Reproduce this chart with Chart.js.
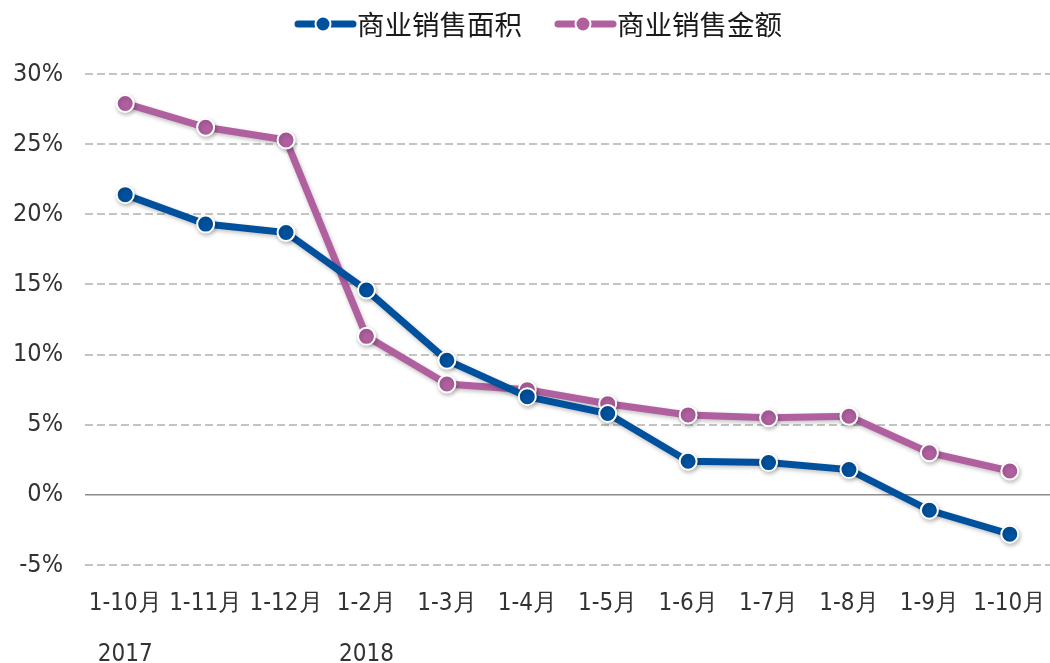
<!DOCTYPE html>
<html>
<head>
<meta charset="utf-8">
<script src="https://cdn.jsdelivr.net/npm/chart.js@4.4.1/dist/chart.umd.min.js"></script>
<style>
html,body{margin:0;padding:0;background:#fff;}
#wrap{width:1050px;height:663px;position:relative;}
</style>
</head>
<body>
<div id="wrap"><canvas id="c" width="1050" height="663"></canvas></div>
<script>
const categories = ['1-10月','1-11月','1-12月','1-2月','1-3月','1-4月','1-5月','1-6月','1-7月','1-8月','1-9月','1-10月'];
const years = ['2017','','','2018','','','','','','','',''];
const areaSeries = [21.4, 19.3, 18.7, 14.6, 9.6, 7.0, 5.8, 2.4, 2.3, 1.8, -1.1, -2.8];
const amountSeries = [27.9, 26.2, 25.3, 11.3, 7.9, 7.5, 6.5, 5.7, 5.5, 5.6, 3.0, 1.7];
const seriesNames = ['商业销售面积','商业销售金额'];
const yTicks = [-5, 0, 5, 10, 15, 20, 25, 30];

const BLUE = '#00519d';
const PURPLE = '#b0609f';
const NUMFONT = "'Liberation Sans Narrow','DejaVu Sans Condensed','Roboto',sans-serif";
const CJKFONT = "'Noto Sans CJK SC','Noto Sans',sans-serif";

const legendPlugin = {
  id: 'customLegend',
  afterDraw(chart) {
    const ctx = chart.ctx;
    const items = [
      {x: 295, color: BLUE, text: seriesNames[0]},
      {x: 555, color: PURPLE, text: seriesNames[1]}
    ];
    ctx.save();
    items.forEach(it => {
      const y = 24;
      ctx.strokeStyle = it.color;
      ctx.lineWidth = 7;
      ctx.lineCap = 'round';
      ctx.beginPath();
      ctx.moveTo(it.x + 3, y);
      ctx.lineTo(it.x + 58, y);
      ctx.stroke();
      ctx.fillStyle = it.color;
      ctx.beginPath();
      ctx.arc(it.x + 28, y, 7.5, 0, Math.PI * 2);
      ctx.fill();
      ctx.strokeStyle = '#ffffff';
      ctx.lineWidth = 2;
      ctx.stroke();
      ctx.fillStyle = '#1a1a1a';
      ctx.font = "27.5px " + CJKFONT;
      ctx.textBaseline = 'middle';
      ctx.textAlign = 'left';
      ctx.fillText(it.text, it.x + 62, y + 1);
    });
    ctx.restore();
  }
};

const shadowPlugin = {
  id: 'shadow',
  beforeDatasetDraw(chart) {
    const ctx = chart.ctx;
    ctx.save();
    ctx.shadowColor = 'rgba(0,0,0,0.25)';
    ctx.shadowBlur = 4;
    ctx.shadowOffsetX = 1;
    ctx.shadowOffsetY = 2;
  },
  afterDatasetDraw(chart) {
    chart.ctx.restore();
  }
};

const isZero = (c) => c.tick && c.tick.value === 0;

new Chart(document.getElementById('c'), {
  type: 'line',
  data: {
    labels: categories,
    datasets: [
      {
        label: seriesNames[0],
        data: areaSeries,
        borderColor: BLUE,
        backgroundColor: BLUE,
        borderWidth: 7,
        pointRadius: 8.5,
        pointBorderWidth: 2,
        pointBorderColor: '#ffffff',
        pointBackgroundColor: BLUE,
        tension: 0,
        clip: false
      },
      {
        label: seriesNames[1],
        data: amountSeries,
        borderColor: PURPLE,
        backgroundColor: PURPLE,
        borderWidth: 7,
        pointRadius: 8.5,
        pointBorderWidth: 2,
        pointBorderColor: '#ffffff',
        pointBackgroundColor: PURPLE,
        tension: 0,
        clip: false
      }
    ]
  },
  options: {
    responsive: false,
    animation: false,
    layout: { autoPadding: false, padding: { top: 74, right: 0, left: 0, bottom: 0 } },
    plugins: {
      legend: { display: false },
      tooltip: { enabled: false }
    },
    scales: {
      x: {
        offset: true,
        grid: { display: false, drawTicks: false },
        border: { display: false },
        afterFit(scale) { scale.height = 98; scale.paddingLeft = 0; scale.paddingRight = 0; },
        ticks: {
          padding: 13,
          color: '#333',
          maxRotation: 0,
          autoSkip: false,
          font: { family: NUMFONT, size: 24, lineHeight: 2.12 },
          callback(v, i) {
            return years[i] ? [categories[i], years[i]] : categories[i];
          }
        }
      },
      y: {
        min: -5,
        max: 30,
        afterFit(scale) { scale.width = 85; },
        afterBuildTicks(scale) { scale.ticks = yTicks.map(v => ({value: v})); },
        border: {
          display: false,
          dash: (c) => isZero(c) ? [] : [8, 4]
        },
        grid: {
          drawTicks: false,
          lineWidth: (c) => isZero(c) ? 1.5 : 2,
          color: (c) => isZero(c) ? '#8c8c8c' : '#c4c4c4'
        },
        ticks: {
          padding: 22,
          color: '#333',
          font: { family: NUMFONT, size: 25 },
          callback: (v) => v + '%'
        }
      }
    }
  },
  plugins: [legendPlugin, shadowPlugin]
});
</script>
</body>
</html>
